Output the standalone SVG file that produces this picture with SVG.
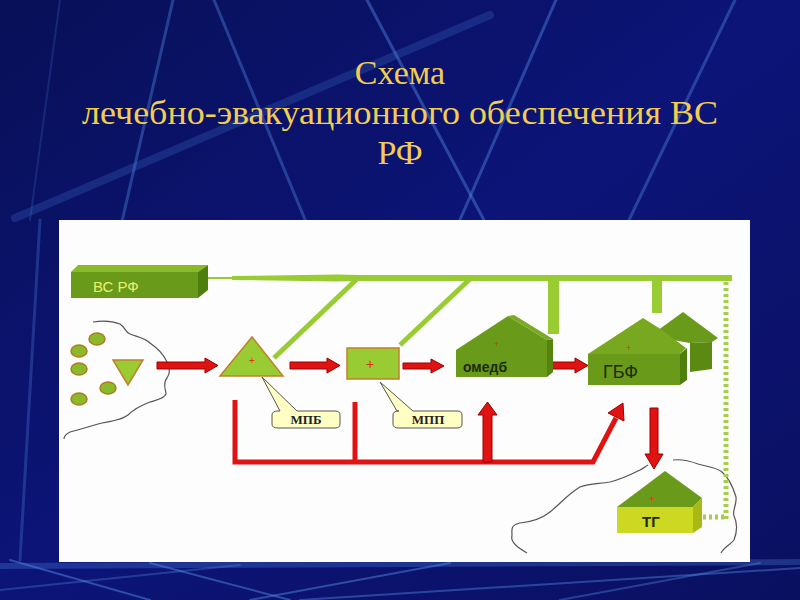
<svg xmlns="http://www.w3.org/2000/svg" width="800" height="600" viewBox="0 0 800 600">
<defs>
<linearGradient id="bg" x1="0" y1="0" x2="1" y2="1">
<stop offset="0" stop-color="#081058"/>
<stop offset="0.5" stop-color="#0c1478"/>
<stop offset="1" stop-color="#0a1060"/>
</linearGradient>
<style>
.bl{stroke:#4f86e0;fill:none;stroke-linecap:round}
.ttl{font-family:"Liberation Serif","Times New Roman",serif;font-size:34px;fill:#f2cd52;text-anchor:middle}
.red{fill:#e01212;stroke:#9a0000;stroke-width:1}
.redl{stroke:#e01212;stroke-width:5;fill:none}
.grn{fill:#99cc33}
.grnl{stroke:#99cc33;fill:none}
.lt{fill:#99cc33;stroke:#c0802a;stroke-width:1.5}
.dot{fill:#8aba2a;stroke:#b07a20;stroke-width:1.5}
.wave{fill:none;stroke:#555;stroke-width:1.2}
.call{fill:#ffffc4;stroke:#555;stroke-width:1}
.ctx{font-family:"Liberation Serif","Times New Roman",serif;font-weight:bold;font-size:13px;fill:#222;text-anchor:middle}
.plus{font-family:"Liberation Sans",Arial,sans-serif;fill:#e03010;text-anchor:middle}
.lbl{font-family:"Liberation Sans",Arial,sans-serif;fill:#1c2a00}
</style>
</defs>
<rect width="800" height="600" fill="url(#bg)"/>
<g id="background-lines">
<line class="bl" x1="15" y1="218" x2="490" y2="15" stroke-width="8" opacity="0.22"/>
<line class="bl" x1="173" y1="0" x2="120" y2="230" stroke-width="3" opacity="0.4"/>
<line class="bl" x1="214" y1="0" x2="306" y2="222" stroke-width="3" opacity="0.4"/>
<line class="bl" x1="367" y1="0" x2="485" y2="222" stroke-width="3" opacity="0.45"/>
<line class="bl" x1="556" y1="0" x2="459" y2="222" stroke-width="3" opacity="0.45"/>
<line class="bl" x1="735" y1="0" x2="628" y2="222" stroke-width="3" opacity="0.4"/>
<line class="bl" x1="60" y1="0" x2="30" y2="220" stroke-width="2" opacity="0.2"/>
<line class="bl" x1="40" y1="220" x2="20" y2="560" stroke-width="3" opacity="0.3"/>
<line class="bl" x1="0" y1="566" x2="800" y2="562" stroke-width="6" opacity="0.3"/>
<line class="bl" x1="10" y1="560" x2="150" y2="600" stroke-width="2" opacity="0.5"/>
<line class="bl" x1="150" y1="563" x2="290" y2="600" stroke-width="2" opacity="0.5"/>
<line class="bl" x1="250" y1="600" x2="450" y2="563" stroke-width="2" opacity="0.5"/>
<line class="bl" x1="300" y1="600" x2="800" y2="568" stroke-width="2" opacity="0.45"/>
<line class="bl" x1="560" y1="600" x2="760" y2="563" stroke-width="2" opacity="0.4"/>
<line class="bl" x1="0" y1="590" x2="240" y2="565" stroke-width="2" opacity="0.35"/>
</g>
<g id="title">
<text class="ttl" x="400" y="84">Схема</text>
<text class="ttl" x="400" y="124" textLength="636" lengthAdjust="spacingAndGlyphs">лечебно-эвакуационного обеспечения ВС</text>
<text class="ttl" x="400" y="164">РФ</text>
</g>
<rect id="panel" x="59" y="220" width="691" height="342" fill="#fdfdfd"/>
<g id="boundaries">
<path class="wave" d="M93,322 C105,320 115,322 120,324 C125,327 125,332 130,334 C138,337 145,338 150,343 C157,348 162,352 166,360 C170,366 171,372 167,378 C162,384 166,390 166,394 C164,399 156,400 150,402 C142,405 135,408 128,415 C120,421 110,421 98,424 C88,427 78,430 70,432 C66,434 64,436 64,439"/>
<path class="wave" d="M527,553 C518,548 510,542 512,536 C512,530 510,525 520,523 C530,522 540,520 550,512 C560,504 568,494 580,487 C590,483 600,484 610,482 C622,479 632,474 640,470 C644,468 646,466 648,465"/>
<path class="wave" d="M673,460 C682,459 690,461 698,464 C708,467 716,467 722,472 C729,478 733,487 736,497 C737,505 732,510 734,516 C738,524 737,532 734,540 C730,545 724,547 721,553"/>
</g>
<g id="connectors">
<line class="grnl" x1="208" y1="278" x2="234" y2="278" stroke-width="2"/>
<polygon class="grn" points="232,276 337,274.5 360,275 360,281 337,281.5 232,280"/>
<rect class="grn" x="340" y="275" width="392" height="6"/>
<line class="grnl" x1="357" y1="279" x2="274" y2="358" stroke-width="5"/>
<line class="grnl" x1="470" y1="279" x2="400" y2="345" stroke-width="5"/>
<rect class="grn" x="548" y="278" width="11" height="56"/>
<rect class="grn" x="652" y="278" width="10" height="35"/>
<line x1="726" y1="282" x2="726" y2="519" stroke="#a8cc50" stroke-width="5" stroke-dasharray="3 3"/>
<line x1="697" y1="517" x2="724" y2="517" stroke="#a8cc50" stroke-width="5" stroke-dasharray="3 3"/>
<polygon class="red" points="157,362 205,362 205,358 218,365.5 205,373 205,369 157,369"/>
<polygon class="red" points="290,362 327,362 327,358 340,365.5 327,373 327,369 290,369"/>
<polygon class="red" points="403,363 431,363 431,359 444,366 431,373 431,369 403,369"/>
<polygon class="red" points="548,362 575,362 575,358 588,365.5 575,373 575,369 548,369"/>
<polygon class="red" points="650,408 658,408 658,454 663,454 654,469 645,454 650,454"/>
<path class="redl" d="M235,400 V462 H593 L616,418"/>
<path class="redl" d="M355,402 V462"/>
<polygon class="red" points="483,462 492,462 492,415 497,415 487.5,402 478,415 483,415"/>
<polygon class="red" points="623,403 624,421 608,413"/>
</g>
<g id="vs-rf">
<polygon points="71,272 78,265 208,265 198,272" fill="#8aba2a"/>
<polygon points="198,272 208,265 208,290 198,298" fill="#4e7e10"/>
<rect x="71" y="272" width="127" height="26" fill="#6a9a1a"/>
<text x="93" y="292" font-family="Liberation Sans, Arial, sans-serif" font-size="15" fill="#e6f26a">ВС РФ</text>
</g>
<g id="troops">
<ellipse class="dot" cx="97" cy="339" rx="8" ry="6"/>
<ellipse class="dot" cx="79" cy="351" rx="8" ry="6"/>
<ellipse class="dot" cx="79" cy="369" rx="8" ry="6"/>
<ellipse class="dot" cx="108" cy="388" rx="8" ry="6"/>
<ellipse class="dot" cx="79" cy="399" rx="8" ry="6"/>
<polygon class="lt" points="113,360 143,360 128,385" fill="#8aba2a"/>
</g>
<g id="mpb">
<polygon class="lt" points="220,376 283,376 252,337"/>
<text class="plus" x="252" y="364" font-size="10">+</text>
<path class="call" d="M262,377 L280,411 H278 Q272,411 272,415 V424 Q272,428 278,428 H335 Q340,428 340,424 V415 Q340,411 335,411 H297 Z"/>
<text class="ctx" x="306" y="424">МПБ</text>
</g>
<g id="mpp">
<rect class="lt" x="347" y="348" width="52" height="31"/>
<text class="plus" x="370" y="369" font-size="14">+</text>
<path class="call" d="M380,382 L397,411 H399 Q393,411 393,415 V424 Q393,428 399,428 H457 Q462,428 462,424 V415 Q462,411 457,411 H413 Z"/>
<text class="ctx" x="428" y="424">МПП</text>
</g>
<g id="omedb">
<polygon points="456,377 456,350 508,316 547,340 547,377" fill="#6a9a1a"/>
<polygon points="547,340 508,316 514,315 553,339" fill="#7aaa22"/>
<polygon points="547,340 553,339 553,372 547,377" fill="#55850f"/>
<text class="plus" x="497" y="347" font-size="9">+</text>
<text class="lbl" x="463" y="372" font-size="14" font-weight="bold">омедб</text>
</g>
<g id="gbf">
<polygon points="650,336 683,312 718,338 712,342 690,343" fill="#6a9a1a"/>
<polygon points="690,343 712,342 712,369 690,372" fill="#5a8a12"/>
<polygon points="588,354 643,318 662,330 686,348 680,354" fill="#78a820"/>
<rect x="588" y="354" width="92" height="31" fill="#6a9a1a"/>
<polygon points="680,354 687,348 687,380 680,385" fill="#4e7e0c"/>
<text class="plus" x="629" y="351" font-size="9">+</text>
<text class="lbl" x="603" y="378" font-size="18">ГБФ</text>
</g>
<g id="tg">
<polygon points="617,507 665,471 702,498 693,507" fill="#6a9a1a"/>
<rect x="617" y="507" width="76" height="26" fill="#ccd822"/>
<polygon points="693,507 702,498 702,527 693,533" fill="#aab814"/>
<text class="plus" x="652" y="502" font-size="9">+</text>
<text class="lbl" x="642" y="527" font-size="15" font-weight="bold">ТГ</text>
</g>
</svg>
